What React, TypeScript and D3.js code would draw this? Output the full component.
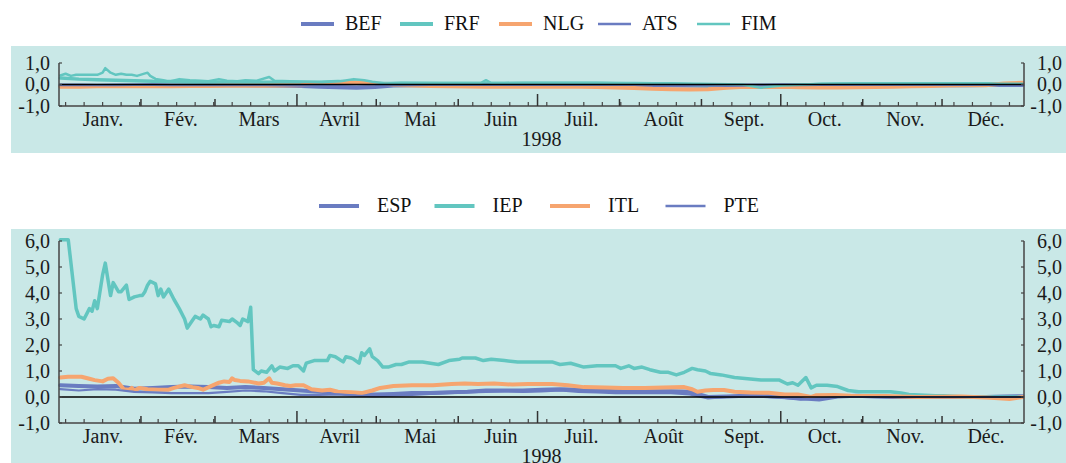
import React from "react";
import * as d3 from "d3";

// ---------- data ----------
const monthLabels = ["Janv.", "Fév.", "Mars", "Avril", "Mai", "Juin", "Juil.", "Août", "Sept.", "Oct.", "Nov.", "Déc."];
const monthStartDays = [0, 31, 59, 90, 120, 151, 181, 212, 243, 273, 304, 334, 365];
const yearLabel = "1998";

const topSeriesNames = ["BEF", "FRF", "NLG", "ATS", "FIM"];
const bottomSeriesNames = ["ESP", "IEP", "ITL", "PTE"];

const topTicks = [-1, 0, 1];
const bottomTicks = [-1, 0, 1, 2, 3, 4, 5, 6];

// weekly observation days (day of year)
const weekDays = d3.range(0, 365, 7);

const befValues = [
  -0.05, -0.05, -0.06, -0.05, -0.05, -0.04, -0.05, -0.05, -0.04, -0.04,
  -0.04, -0.05, -0.06, -0.07, -0.1, -0.13, -0.15, -0.12, -0.05, -0.04,
  -0.03, -0.03, -0.03, -0.03, -0.03, -0.03, -0.03, -0.03, -0.03, -0.03,
  -0.03, -0.03, -0.04, -0.04, -0.05, -0.06, -0.06, -0.05, -0.05, -0.04,
  -0.04, -0.04, -0.04, -0.04, -0.03, -0.03, -0.03, -0.03, -0.03, -0.03,
  -0.02, -0.02, -0.02,
];
const frfValues = [
  0.3, 0.25, 0.22, 0.2, 0.18, 0.15, 0.14, 0.12, 0.12, 0.12,
  0.1, 0.1, 0.1, 0.1, 0.1, 0.14, 0.12, 0.06, 0.05, 0.05,
  0.05, 0.05, 0.05, 0.05, 0.05, 0.06, 0.06, 0.06, 0.06, 0.06,
  0.05, 0.05, 0.04, 0.03, 0.0, -0.06, -0.1, -0.12, -0.1, -0.06,
  -0.03, 0.0, 0.02, 0.03, 0.03, 0.03, 0.03, 0.03, 0.03, 0.03,
  0.03, 0.03, 0.03,
];
const nlgValues = [
  -0.1, -0.1, -0.08, -0.08, -0.07, -0.08, -0.08, -0.07, -0.07, -0.06,
  -0.06, -0.06, -0.05, -0.04, 0.02, 0.06, 0.08, 0.05, -0.02, -0.05,
  -0.07, -0.08, -0.09, -0.1, -0.1, -0.1, -0.1, -0.1, -0.1, -0.12,
  -0.14, -0.16, -0.2, -0.22, -0.23, -0.22, -0.15, -0.1, -0.12, -0.1,
  -0.13, -0.14, -0.14, -0.13, -0.12, -0.1, -0.08, -0.07, -0.05, -0.04,
  -0.03, 0.05, 0.08,
];
const atsValues = [
  -0.03, -0.03, -0.03, -0.03, -0.02, -0.02, -0.03, -0.03, -0.03, -0.03,
  -0.03, -0.03, -0.04, -0.05, -0.06, -0.08, -0.1, -0.08, -0.04, -0.03,
  -0.02, -0.02, -0.02, -0.02, -0.02, -0.02, -0.02, -0.02, -0.02, -0.02,
  -0.02, -0.02, -0.03, -0.03, -0.04, -0.05, -0.06, -0.05, -0.04, -0.03,
  -0.03, -0.02, -0.02, -0.02, -0.02, -0.02, -0.02, -0.02, -0.02, -0.02,
  -0.02, -0.02, -0.02,
];
const fimDays = [
  0, 2, 4, 6, 10, 14, 16, 17, 19, 21, 23, 25, 27, 29, 33, 34, 36, 39, 41, 45,
  49, 53, 56, 60, 63, 67, 70, 74, 79, 81, 87, 93, 99, 106, 111, 115, 118, 123, 129, 144,
  159, 161, 163, 182, 205, 224, 242, 258, 265, 273, 288, 318, 364,
];
const fimValues = [
  0.42, 0.5, 0.4, 0.45, 0.45, 0.45, 0.55, 0.76, 0.55, 0.45, 0.5, 0.45, 0.45, 0.4, 0.55, 0.4, 0.26, 0.2, 0.13, 0.25,
  0.2, 0.17, 0.15, 0.25, 0.17, 0.15, 0.2, 0.17, 0.35, 0.17, 0.15, 0.13, 0.1, 0.15, 0.25, 0.2, 0.13, 0.05, 0.08, 0.07,
  0.07, 0.2, 0.07, 0.07, 0.07, 0.05, 0.03, 0.0, -0.15, -0.05, 0.03, 0.03, 0.03,
];

const espValues = [
  0.45, 0.42, 0.4, 0.42, 0.32, 0.35, 0.38, 0.4, 0.38, 0.35,
  0.38, 0.35, 0.3, 0.25, 0.2, 0.15, 0.12, 0.1, 0.12, 0.15,
  0.15, 0.18, 0.2, 0.25, 0.25, 0.25, 0.28, 0.3, 0.28, 0.25,
  0.22, 0.22, 0.22, 0.22, 0.2, 0.0, 0.02, 0.05, 0.05, 0.0,
  -0.05, -0.1, 0.02, 0.05, 0.02, 0.0, 0.0, 0.0, 0.0, 0.0,
  0.0, 0.02, 0.03,
];
const pteValues = [
  0.3, 0.25, 0.3, 0.28, 0.2, 0.18, 0.15, 0.15, 0.15, 0.2,
  0.25, 0.22, 0.15, 0.08, 0.08, 0.1, 0.05, 0.03, 0.05, 0.08,
  0.12, 0.15, 0.18, 0.2, 0.22, 0.2, 0.22, 0.25, 0.2, 0.18,
  0.15, 0.15, 0.15, 0.15, 0.1, -0.05, 0.0, 0.02, 0.0, -0.03,
  -0.1, -0.05, 0.0, 0.0, 0.0, 0.0, 0.0, 0.0, 0.0, 0.0,
  0.0, 0.0, 0.0,
];
const iepDays = [
  0, 3, 6, 7, 9, 11, 12, 13, 14, 16, 17, 19, 20, 22, 23, 25, 26, 28, 30, 31,
  32, 33, 34, 36, 37, 38, 39, 41, 43, 45, 47, 48, 50, 51, 53, 54, 56, 57, 58, 60,
  61, 64, 65, 67, 68, 69, 71, 72, 73, 75, 76, 78, 80, 81, 83, 86, 88, 90, 92, 93,
  96, 98, 101, 102, 104, 107, 108, 110, 111, 113, 114, 115, 117, 118, 120, 122, 124, 127, 129, 132,
  137, 140, 143, 147, 151, 152, 157, 160, 163, 168, 173, 179, 186, 189, 193, 198, 203, 207, 210, 212,
  215, 217, 220, 223, 227, 230, 233, 236, 239, 241, 244, 246, 250, 255, 260, 265, 269, 272, 275, 277,
  279, 282, 284, 286, 290, 294, 298, 302, 308, 314, 318, 321, 331, 334, 343, 364,
];
const iepValues = [
  6.05, 6.05, 3.4, 3.1, 3.0, 3.4, 3.3, 3.7, 3.4, 4.7, 5.15, 3.9, 4.4, 4.05, 4.05, 4.3, 3.75, 3.85, 3.9, 3.9,
  4.05, 4.3, 4.45, 4.35, 3.9, 4.15, 3.85, 4.15, 3.75, 3.4, 3.0, 2.65, 2.95, 3.1, 3.0, 3.15, 3.0, 2.7, 2.75, 2.7,
  2.95, 2.9, 3.0, 2.85, 2.75, 3.0, 2.9, 3.45, 1.05, 0.9, 1.0, 0.95, 1.2, 1.0, 1.15, 1.1, 1.2, 1.2, 1.0, 1.3,
  1.4, 1.4, 1.4, 1.6, 1.55, 1.35, 1.55, 1.5, 1.45, 1.3, 1.7, 1.6, 1.85, 1.55, 1.4, 1.15, 1.15, 1.25, 1.25, 1.35,
  1.35, 1.3, 1.25, 1.4, 1.45, 1.5, 1.5, 1.4, 1.45, 1.4, 1.35, 1.35, 1.35, 1.25, 1.3, 1.15, 1.2, 1.2, 1.2, 1.1,
  1.2, 1.1, 1.15, 1.05, 0.95, 0.95, 0.85, 0.95, 1.1, 1.05, 1.0, 0.9, 0.85, 0.75, 0.7, 0.65, 0.65, 0.65, 0.5, 0.55,
  0.45, 0.75, 0.35, 0.45, 0.45, 0.4, 0.25, 0.2, 0.2, 0.2, 0.15, 0.1, 0.05, 0.05, 0.0, 0.0,
];
const itlDays = [
  0, 3, 8, 11, 13, 16, 18, 20, 22, 24, 26, 27, 28, 30, 33, 37, 41, 43, 47, 50,
  52, 54, 57, 60, 62, 64, 65, 66, 68, 71, 75, 77, 79, 80, 82, 85, 87, 89, 92, 95,
  99, 102, 105, 110, 114, 118, 121, 126, 133, 141, 148, 153, 158, 164, 171, 177, 186, 192, 198, 206,
  213, 221, 228, 236, 239, 241, 244, 247, 251, 255, 261, 268, 274, 279, 284, 286, 293, 299, 312, 324,
  341, 352, 359, 364,
];
const itlValues = [
  0.75, 0.78, 0.78, 0.7, 0.65, 0.6, 0.7, 0.72, 0.55, 0.3, 0.28, 0.35, 0.25, 0.35, 0.3, 0.28, 0.28, 0.35, 0.45, 0.38,
  0.35, 0.28, 0.42, 0.55, 0.6, 0.58, 0.72, 0.65, 0.62, 0.6, 0.52, 0.55, 0.72, 0.55, 0.52, 0.45, 0.42, 0.45, 0.45, 0.3,
  0.25, 0.28, 0.2, 0.18, 0.15, 0.25, 0.35, 0.42, 0.45, 0.45, 0.5, 0.52, 0.5, 0.52, 0.48, 0.5, 0.5, 0.45, 0.38, 0.37,
  0.35, 0.35, 0.37, 0.38, 0.3, 0.2, 0.25, 0.27, 0.27, 0.2, 0.17, 0.16, 0.1, 0.1, 0.0, 0.07, 0.08, 0.05, 0.04, 0.0,
  0.02, -0.03, -0.08, 0.0,
];

// ---------- styling ----------
const BLUE = "#6a7cc1";
const TEAL = "#62c6c0";
const ORANGE = "#f6a56f";
const BG = "#c9e8e7";
const FONT = "Liberation Serif, Tinos, Times New Roman, DejaVu Serif, serif";
const textStyle = { fontFamily: FONT, fontSize: "20px" };

type Series = { name: string; days: number[]; values: number[]; color: string; width: number };

const topSeries: Series[] = [
  { name: topSeriesNames[0], days: weekDays, values: befValues, color: BLUE, width: 4 },
  { name: topSeriesNames[1], days: weekDays, values: frfValues, color: TEAL, width: 3.5 },
  { name: topSeriesNames[2], days: weekDays, values: nlgValues, color: ORANGE, width: 4 },
  { name: topSeriesNames[3], days: weekDays, values: atsValues, color: BLUE, width: 2.2 },
  { name: topSeriesNames[4], days: fimDays, values: fimValues, color: TEAL, width: 2.5 },
];
const bottomSeries: Series[] = [
  { name: bottomSeriesNames[0], days: weekDays, values: espValues, color: BLUE, width: 4 },
  { name: bottomSeriesNames[1], days: iepDays, values: iepValues, color: TEAL, width: 3.5 },
  { name: bottomSeriesNames[2], days: itlDays, values: itlValues, color: ORANGE, width: 4 },
  { name: bottomSeriesNames[3], days: weekDays, values: pteValues, color: BLUE, width: 2.2 },
];

const legendWidth = (s: Series) => (s.width >= 3.5 ? 4 : 2.5);

const X0 = 59;
const X1 = 1024;
const x = d3.scaleLinear().domain([0, 365]).range([X0, X1]);
const weekTicks = d3.range(2.5, 365, 7);

function fmt(v: number) {
  return v.toFixed(1).replace(".", ",");
}

function Panel({
  series, yDomain, yRange, ticks,
}: { series: Series[]; yDomain: [number, number]; yRange: [number, number]; ticks: number[] }) {
  const y = d3.scaleLinear().domain(yDomain).range(yRange);
  const axisY = y(yDomain[0]);
  const topY = y(yDomain[1]);
  return (
    <g>
      {series.map((s) => {
        const pts = s.days.map((d, i) => [d, s.values[i]] as [number, number]);
        const line = d3.line<[number, number]>().x((p) => x(p[0] + 0.5)).y((p) => y(p[1]));
        return (
          <path key={s.name} d={line(pts) || ""} fill="none" stroke={s.color}
            strokeWidth={s.width} strokeLinejoin="round" strokeLinecap="round" />
        );
      })}
      {/* zero line */}
      <line x1={X0} x2={X1} y1={y(0)} y2={y(0)} stroke="#000" strokeWidth={1.6} />
      {/* axes */}
      <line x1={X0} x2={X0} y1={topY} y2={axisY} stroke="#444" strokeWidth={1.5} />
      <line x1={X1} x2={X1} y1={topY} y2={axisY} stroke="#444" strokeWidth={1.5} />
      <line x1={X0} x2={X1} y1={axisY} y2={axisY} stroke="#444" strokeWidth={1.5} />
      {ticks.map((t) => (
        <g key={t}>
          <line x1={X0} x2={X0 + 3} y1={y(t)} y2={y(t)} stroke="#444" strokeWidth={1.2} />
          <line x1={X1 - 3} x2={X1} y1={y(t)} y2={y(t)} stroke="#444" strokeWidth={1.2} />
          <text x={50} y={y(t)} dy="0.34em" textAnchor="end" style={textStyle} fill="#1a1a1a">{fmt(t)}</text>
          <text x={1062} y={y(t)} dy="0.34em" textAnchor="end" style={textStyle} fill="#1a1a1a">{fmt(t)}</text>
        </g>
      ))}
      {weekTicks.map((d) => (
        <line key={"w" + d} x1={x(d)} x2={x(d)} y1={axisY} y2={axisY - 4} stroke="#444" strokeWidth={1.2} />
      ))}
      {monthStartDays.slice(1, 12).map((d, i) => (
        <line key={"m" + d} x1={x(d)} x2={x(d)} y1={axisY} y2={axisY - ((i + 1) % 3 === 0 ? 12 : 7)} stroke="#333" strokeWidth={1.5} />
      ))}
      {monthLabels.map((m, i) => (
        <text key={m} x={(x(monthStartDays[i]) + x(monthStartDays[i + 1])) / 2 + 3} y={axisY + 19.5}
          textAnchor="middle" style={textStyle} fill="#1a1a1a">{m}</text>
      ))}
      <text x={(X0 + X1) / 2} y={axisY + 40} textAnchor="middle" style={textStyle} fill="#1a1a1a">{yearLabel}</text>
    </g>
  );
}

function Legend({ series, x0, pitch, lineLen, gap, y }: { series: Series[]; x0: number; pitch: number; lineLen: number; gap: number; y: number }) {
  return (
    <g>
      {series.map((s, i) => {
        const lx = x0 + i * pitch;
        return (
          <g key={s.name}>
            <line x1={lx} x2={lx + lineLen} y1={y} y2={y} stroke={s.color} strokeWidth={legendWidth(s)} />
            <text x={lx + lineLen + gap} y={y} dy="0.3em" style={textStyle} fill="#111">{s.name}</text>
          </g>
        );
      })}
    </g>
  );
}

export default function App() {
  return (
    <svg width={1066} height={463} style={{ position: "absolute", left: 0, top: 0, background: "#fff" }}>
      <rect x={11} y={46} width={1055} height={107} fill={BG} />
      <rect x={11} y={229} width={1055} height={234} fill={BG} />
      <Legend series={topSeries} x0={301} pitch={99} lineLen={33} gap={11} y={24} />
      <Legend series={bottomSeries} x0={319} pitch={115.5} lineLen={40} gap={18} y={206} />
      <Panel series={topSeries} yDomain={[-1, 1]} yRange={[106, 63]} ticks={topTicks} />
      <Panel series={bottomSeries} yDomain={[-1, 6]} yRange={[423, 241]} ticks={bottomTicks} />
    </svg>
  );
}
